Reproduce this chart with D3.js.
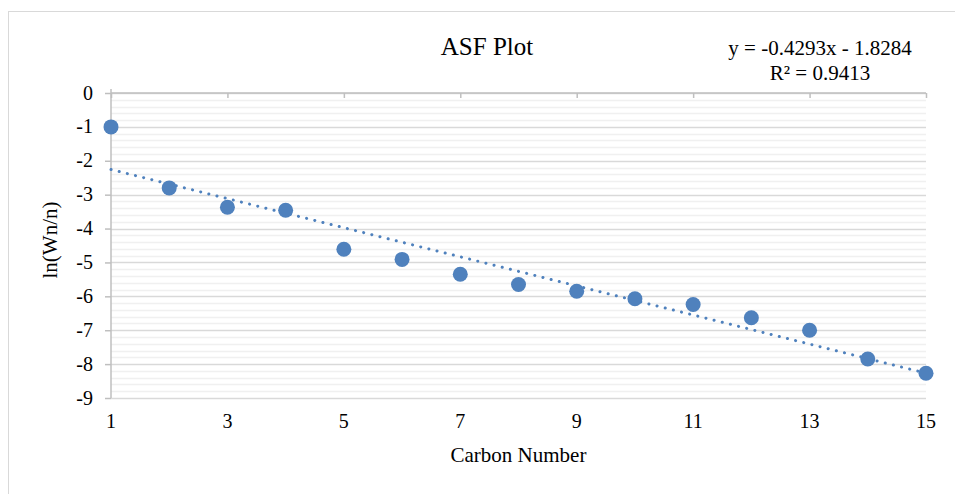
<!DOCTYPE html>
<html lang="en">
<head>
  <meta charset="UTF-8" />
  <title>ASF Plot</title>
  <style>
    body { margin: 0; background: #fff; }
    svg text { font-family: "Liberation Serif", "Times New Roman", serif; fill: #000; }
  </style>
</head>
<body>
  <script src="https://d3js.org/d3.v7.min.js"></script>
  <script>
    // Data
    const carbonNumbers = [1, 2, 3, 4, 5, 6, 7, 8, 9, 10, 11, 12, 13, 14, 15];
    const lnWnN = [-1.0, -2.8, -3.37, -3.46, -4.61, -4.91, -5.35, -5.65, -5.85, -6.07, -6.24, -6.63, -7.0, -7.85, -8.27];
    const xTicks = [1, 3, 5, 7, 9, 11, 13, 15];
    const yTicks = [0, -1, -2, -3, -4, -5, -6, -7, -8, -9];
    const trend = { slope: -0.4293, intercept: -1.8284, r2: 0.9413 };

    const width = 955, height = 494;
    const plot = { left: 111, right: 926, top: 93, bottom: 398 };
    const blue = '#4f81bd';

    const svg = d3.select('body').append('svg')
      .attr('width', width)
      .attr('height', height);

    // Chart border (runs off the right and bottom edge)
    svg.append('rect')
      .attr('x', 8.5).attr('y', 11.5)
      .attr('width', 1000).attr('height', 600)
      .attr('fill', 'none')
      .attr('stroke', '#d9d9d9');

    const x = d3.scaleLinear().domain([1, 15]).range([plot.left, plot.right]);
    const y = d3.scaleLinear().domain([-9, 0]).range([plot.bottom, plot.top]);

    // Minor gridlines every 0.2
    const minor = d3.range(-9, 0.001, 0.2).map(v => Math.round(v * 10) / 10)
      .filter(v => Math.abs(v - Math.round(v)) > 0.01);
    svg.append('g')
      .selectAll('line')
      .data(minor)
      .enter().append('line')
      .attr('x1', plot.left).attr('x2', plot.right)
      .attr('y1', d => Math.round(y(d)) + 0.5)
      .attr('y2', d => Math.round(y(d)) + 0.5)
      .attr('stroke', '#f0f0f0')
      .attr('stroke-width', 1.5);

    // Major gridlines
    svg.append('g')
      .selectAll('line')
      .data(yTicks)
      .enter().append('line')
      .attr('x1', plot.left).attr('x2', plot.right)
      .attr('y1', d => Math.round(y(d)) + 0.5)
      .attr('y2', d => Math.round(y(d)) + 0.5)
      .attr('stroke', '#d9d9d9')
      .attr('stroke-width', 1.5);

    // Y axis (plain hyphen for negatives, like the original)
    const yAxis = svg.append('g')
      .attr('transform', `translate(${plot.left},0)`)
      .call(d3.axisLeft(y).tickValues(yTicks).tickSize(6).tickPadding(12).tickFormat(d => String(d)));
    yAxis.attr('font-family', '"Liberation Serif", serif').attr('font-size', 20);
    yAxis.select('.domain').attr('stroke', '#bfbfbf').attr('stroke-width', 1.5)
      .attr('d', `M0,${plot.top - 4}V${plot.bottom}`);
    yAxis.selectAll('.tick line').attr('stroke', '#bfbfbf').attr('stroke-width', 1.5);
    yAxis.selectAll('.tick text')
      .attr('fill', '#000')
      .attr('dy', '0.3em');

    // X axis line sits at y = 0, labels at the bottom
    const xAxis = svg.append('g')
      .attr('transform', `translate(0,${plot.top})`)
      .call(d3.axisBottom(x).tickValues(xTicks).tickSize(5).tickFormat(''));
    xAxis.select('.domain').attr('stroke', '#bfbfbf').attr('stroke-width', 1.5)
      .attr('d', `M${plot.left},0H${plot.right}`);
    xAxis.selectAll('.tick line').attr('stroke', '#bfbfbf').attr('stroke-width', 1.5);

    svg.append('g')
      .selectAll('text')
      .data(xTicks)
      .enter().append('text')
      .attr('x', d => x(d))
      .attr('y', plot.bottom + 30)
      .attr('text-anchor', 'middle')
      .attr('font-size', '20px')
      .text(d => d);

    // Trendline (dotted)
    const trendLine = d3.line()
      .x(d => x(d))
      .y(d => y(trend.intercept + trend.slope * d));
    svg.append('path')
      .datum([1, 15])
      .attr('d', trendLine)
      .attr('fill', 'none')
      .attr('stroke', blue)
      .attr('stroke-width', 3)
      .attr('stroke-linecap', 'round')
      .attr('stroke-dasharray', '0.1 8.3');

    // Points
    svg.append('g')
      .selectAll('circle')
      .data(carbonNumbers)
      .enter().append('circle')
      .attr('cx', d => x(d))
      .attr('cy', (d, i) => y(lnWnN[i]))
      .attr('r', 7.5)
      .attr('fill', blue);

    // Titles
    svg.append('text')
      .attr('x', 487).attr('y', 55)
      .attr('text-anchor', 'middle')
      .attr('font-size', '25px')
      .text('ASF Plot');

    svg.append('text')
      .attr('x', 820).attr('y', 55)
      .attr('text-anchor', 'middle')
      .attr('font-size', '21px')
      .text(`y = ${trend.slope}x - ${Math.abs(trend.intercept)}`);
    svg.append('text')
      .attr('x', 820).attr('y', 80)
      .attr('text-anchor', 'middle')
      .attr('font-size', '21px')
      .text(`R² = ${trend.r2}`);

    svg.append('text')
      .attr('x', (plot.left + plot.right) / 2)
      .attr('y', 462)
      .attr('text-anchor', 'middle')
      .attr('font-size', '21px')
      .text('Carbon Number');

    svg.append('text')
      .attr('transform', 'translate(57,240) rotate(-90)')
      .attr('text-anchor', 'middle')
      .attr('font-size', '21px')
      .text('ln(Wn/n)');
  </script>
</body>
</html>
